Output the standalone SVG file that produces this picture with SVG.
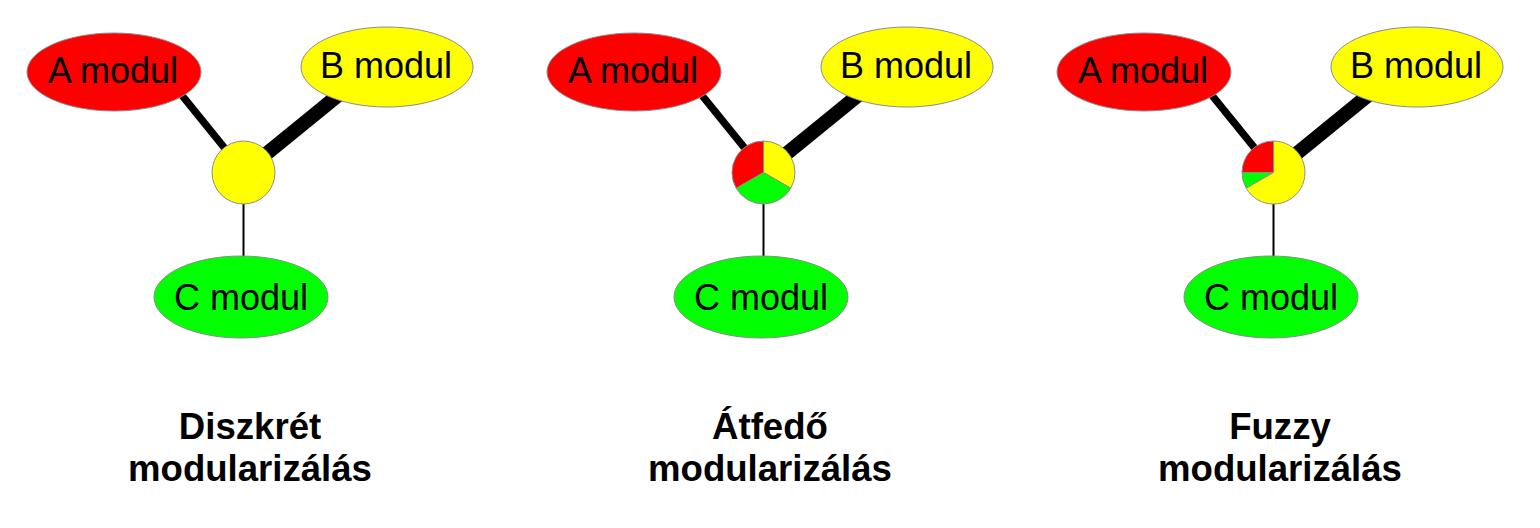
<svg xmlns="http://www.w3.org/2000/svg" width="1540" height="528" viewBox="0 0 1540 528">
<style>
.bg{fill:#ffffff}
.ell{stroke:#8c8c8c;stroke-width:1}
.red{fill:#ff0000}
.yel{fill:#ffff00}
.grn{fill:#00ff00}
.sl{stroke:#8c8c8c;stroke-width:1}
.lbl{font-family:"Liberation Sans",Arial,sans-serif;font-size:36px;fill:#000;text-anchor:middle}
.cap{font-family:"Liberation Sans",Arial,sans-serif;font-size:36.6px;font-weight:bold;fill:#000;text-anchor:middle}
.ca{stroke:#000;stroke-width:7.5;fill:none}
.cb{stroke:#000;stroke-width:14;fill:none}
.cc{stroke:#000;stroke-width:2;fill:none}
</style>
<rect class="bg" x="0" y="0" width="1540" height="528"/>
<g id="connectors">
  <line class="ca" x1="172" y1="83" x2="244" y2="172"/>
  <line class="cb" x1="352" y1="84" x2="244" y2="172"/>
  <line class="cc" x1="243.5" y1="200" x2="243.5" y2="260"/>
  <line class="ca" x1="692" y1="83" x2="764" y2="172"/>
  <line class="cb" x1="872" y1="84" x2="764" y2="172"/>
  <line class="cc" x1="763.5" y1="200" x2="763.5" y2="260"/>
  <line class="ca" x1="1202" y1="83" x2="1274" y2="172"/>
  <line class="cb" x1="1382" y1="84" x2="1274" y2="172"/>
  <line class="cc" x1="1273.5" y1="200" x2="1273.5" y2="260"/>
</g>
<g id="p1-a"><ellipse class="ell red" cx="114" cy="72" rx="87" ry="39"/><text class="lbl" x="113" y="83">A modul</text></g>
<g id="p1-b"><ellipse class="ell yel" cx="387" cy="67" rx="86" ry="40"/><text class="lbl" x="386" y="78">B modul</text></g>
<g id="p1-c"><ellipse class="ell grn" cx="241" cy="297" rx="87" ry="41"/><text class="lbl" x="241" y="310">C modul</text></g>
<g id="p1-hub"><circle class="ell yel" cx="243.5" cy="172.5" r="31.5"/></g>
<g id="p1-caption"><text class="cap" x="250" y="439">Diszkrét</text><text class="cap" x="250" y="481">modularizálás</text></g>

<g id="p2-a"><ellipse class="ell red" cx="634" cy="72" rx="87" ry="39"/><text class="lbl" x="633" y="83">A modul</text></g>
<g id="p2-b"><ellipse class="ell yel" cx="907" cy="67" rx="86" ry="40"/><text class="lbl" x="906" y="78">B modul</text></g>
<g id="p2-c"><ellipse class="ell grn" cx="761" cy="297" rx="87" ry="41"/><text class="lbl" x="761" y="310">C modul</text></g>
<g id="p2-hub">
  <path class="sl red" d="M763.5,172.5 L763.5,141 A31.5,31.5 0 0 0 736.22,188.25 Z"/>
  <path class="sl yel" d="M763.5,172.5 L763.5,141 A31.5,31.5 0 0 1 790.78,188.25 Z"/>
  <path class="sl grn" d="M763.5,172.5 L790.78,188.25 A31.5,31.5 0 0 1 736.22,188.25 Z"/>
</g>
<g id="p2-caption"><text class="cap" x="770" y="439">Átfedő</text><text class="cap" x="770" y="481">modularizálás</text></g>

<g id="p3-a"><ellipse class="ell red" cx="1144" cy="72" rx="87" ry="39"/><text class="lbl" x="1143" y="83">A modul</text></g>
<g id="p3-b"><ellipse class="ell yel" cx="1417" cy="67" rx="86" ry="40"/><text class="lbl" x="1416" y="78">B modul</text></g>
<g id="p3-c"><ellipse class="ell grn" cx="1271" cy="297" rx="87" ry="41"/><text class="lbl" x="1271" y="310">C modul</text></g>
<g id="p3-hub">
  <path class="sl red" d="M1273.5,172.5 L1273.5,141 A31.5,31.5 0 0 0 1242,172.5 Z"/>
  <path class="sl grn" d="M1273.5,172.5 L1242,172.5 A31.5,31.5 0 0 0 1246.22,188.25 Z"/>
  <path class="sl yel" d="M1273.5,172.5 L1246.22,188.25 A31.5,31.5 0 1 0 1273.5,141 Z"/>
</g>
<g id="p3-caption"><text class="cap" x="1280" y="439">Fuzzy</text><text class="cap" x="1280" y="481">modularizálás</text></g>
</svg>
